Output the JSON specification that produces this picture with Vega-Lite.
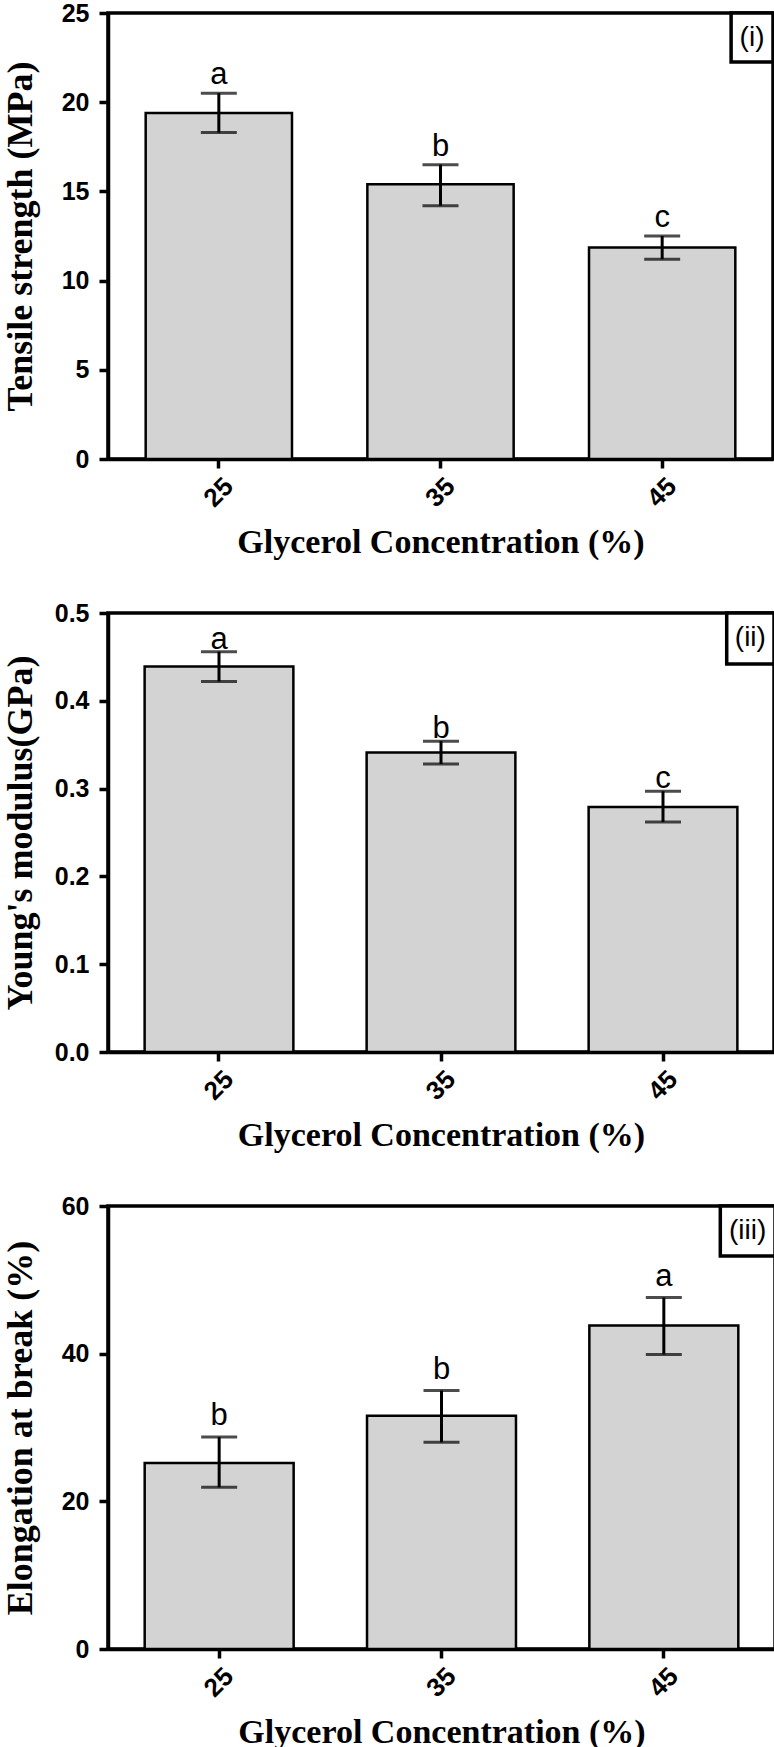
{
  "$schema": "https://vega.github.io/schema/vega-lite/v6.json",
  "padding": {"left": 0, "top": -1, "right": 2, "bottom": 0},
  "background": "white",
  "vconcat": [
    {
      "width": 665, "height": 446,
      "layer": [
        {
          "data": {"values": [
            {"conc": "25", "mean": 19.4, "lo": 18.3, "hi": 20.5, "grp": "a"},
            {"conc": "35", "mean": 15.4, "lo": 14.2, "hi": 16.5, "grp": "b"},
            {"conc": "45", "mean": 11.85, "lo": 11.2, "hi": 12.5, "grp": "c"}
          ]},
          "encoding": {
            "x": {"field": "conc", "type": "nominal", "title": "Glycerol Concentration (%)", "scale": {"paddingInner": 0.34, "paddingOuter": 0.17}, "axis": {"bandPosition": 0.5}}
          },
          "layer": [
            {"mark": {"type": "bar", "fill": "#d3d3d3", "stroke": "black", "strokeWidth": 2.5},
             "encoding": {
               "y": {"field": "mean", "type": "quantitative", "title": "Tensile strength (MPa)", "scale": {"domain": [0, 25], "nice": false}, "axis": {"values": [0, 5, 10, 15, 20, 25], "titlePadding": 22}}
             }},
            {"mark": {"type": "rule", "color": "black", "strokeWidth": 3},
             "encoding": {"y": {"field": "lo", "type": "quantitative", "title": "Tensile strength (MPa)"}, "y2": {"field": "hi"}}},
            {"mark": {"type": "tick", "color": "black", "thickness": 3, "size": 36, "orient": "horizontal"},
             "encoding": {"y": {"field": "hi", "type": "quantitative", "title": "Tensile strength (MPa)"}}},
            {"mark": {"type": "tick", "color": "black", "thickness": 3, "size": 36, "orient": "horizontal"},
             "encoding": {"y": {"field": "lo", "type": "quantitative", "title": "Tensile strength (MPa)"}}},
            {"mark": {"type": "text", "font": "Liberation Sans", "fontSize": 31, "baseline": "alphabetic", "dy": -9, "color": "black"},
             "encoding": {"y": {"field": "hi", "type": "quantitative", "title": "Tensile strength (MPa)"}, "text": {"field": "grp"}}}
          ]
        },
        {
          "data": {"values": [{"lab": "(i)"}]},
          "layer": [
            {"mark": {"type": "rect", "fill": "white", "stroke": "black", "strokeWidth": 3.5},
             "encoding": {
               "x": {"datum": 0.937, "type": "quantitative", "scale": {"domain": [0, 1]}, "axis": null}, "x2": {"datum": 1},
               "y": {"datum": 0.89, "type": "quantitative", "scale": {"domain": [0, 1]}, "axis": null}, "y2": {"datum": 1}
             }},
            {"mark": {"type": "text", "font": "Liberation Sans", "fontSize": 28, "align": "center", "baseline": "middle", "color": "black"},
             "encoding": {
               "x": {"datum": 0.9685, "type": "quantitative", "scale": {"domain": [0, 1]}, "axis": null},
               "y": {"datum": 0.945, "type": "quantitative", "scale": {"domain": [0, 1]}, "axis": null},
               "text": {"field": "lab"}
             }}
          ]
        }
      ],
      "resolve": {"scale": {"x": "independent", "y": "independent"}}
    },
    {
      "width": 666, "height": 439,
      "layer": [
        {
          "data": {"values": [
            {"conc": "25", "mean": 0.439, "lo": 0.422, "hi": 0.456, "grp": "a"},
            {"conc": "35", "mean": 0.341, "lo": 0.328, "hi": 0.354, "grp": "b"},
            {"conc": "45", "mean": 0.279, "lo": 0.262, "hi": 0.297, "grp": "c"}
          ]},
          "encoding": {
            "x": {"field": "conc", "type": "nominal", "title": "Glycerol Concentration (%)", "scale": {"paddingInner": 0.33, "paddingOuter": 0.165}, "axis": {"bandPosition": 0.5}}
          },
          "layer": [
            {"mark": {"type": "bar", "fill": "#d3d3d3", "stroke": "black", "strokeWidth": 2.5},
             "encoding": {
               "y": {"field": "mean", "type": "quantitative", "title": "Young's  modulus(GPa)", "scale": {"domain": [0, 0.5], "nice": false}, "axis": {"values": [0, 0.1, 0.2, 0.3, 0.4, 0.5], "format": ".1f", "titlePadding": 15}}
             }},
            {"mark": {"type": "rule", "color": "black", "strokeWidth": 3},
             "encoding": {"y": {"field": "lo", "type": "quantitative", "title": "Young's  modulus(GPa)"}, "y2": {"field": "hi"}}},
            {"mark": {"type": "tick", "color": "black", "thickness": 3, "size": 36, "orient": "horizontal"},
             "encoding": {"y": {"field": "hi", "type": "quantitative", "title": "Young's  modulus(GPa)"}}},
            {"mark": {"type": "tick", "color": "black", "thickness": 3, "size": 36, "orient": "horizontal"},
             "encoding": {"y": {"field": "lo", "type": "quantitative", "title": "Young's  modulus(GPa)"}}},
            {"mark": {"type": "text", "font": "Liberation Sans", "fontSize": 31, "baseline": "alphabetic", "dy": -3, "color": "black"},
             "encoding": {"y": {"field": "hi", "type": "quantitative", "title": "Young's  modulus(GPa)"}, "text": {"field": "grp"}}}
          ]
        },
        {
          "data": {"values": [{"lab": "(ii)"}]},
          "layer": [
            {"mark": {"type": "rect", "fill": "white", "stroke": "black", "strokeWidth": 3.5},
             "encoding": {
               "x": {"datum": 0.929, "type": "quantitative", "scale": {"domain": [0, 1]}, "axis": null}, "x2": {"datum": 1},
               "y": {"datum": 0.884, "type": "quantitative", "scale": {"domain": [0, 1]}, "axis": null}, "y2": {"datum": 1}
             }},
            {"mark": {"type": "text", "font": "Liberation Sans", "fontSize": 28, "align": "center", "baseline": "middle", "color": "black"},
             "encoding": {
               "x": {"datum": 0.9645, "type": "quantitative", "scale": {"domain": [0, 1]}, "axis": null},
               "y": {"datum": 0.942, "type": "quantitative", "scale": {"domain": [0, 1]}, "axis": null},
               "text": {"field": "lab"}
             }}
          ]
        }
      ],
      "resolve": {"scale": {"x": "independent", "y": "independent"}}
    },
    {
      "width": 667, "height": 443,
      "layer": [
        {
          "data": {"values": [
            {"conc": "25", "mean": 25.2, "lo": 21.9, "hi": 28.7, "grp": "b"},
            {"conc": "35", "mean": 31.6, "lo": 28.0, "hi": 35.0, "grp": "b"},
            {"conc": "45", "mean": 43.8, "lo": 39.9, "hi": 47.6, "grp": "a"}
          ]},
          "encoding": {
            "x": {"field": "conc", "type": "nominal", "title": "Glycerol Concentration (%)", "scale": {"paddingInner": 0.33, "paddingOuter": 0.165}, "axis": {"bandPosition": 0.5}}
          },
          "layer": [
            {"mark": {"type": "bar", "fill": "#d3d3d3", "stroke": "black", "strokeWidth": 2.5},
             "encoding": {
               "y": {"field": "mean", "type": "quantitative", "title": "Elongation at break (%)", "scale": {"domain": [0, 60], "nice": false}, "axis": {"values": [0, 20, 40, 60], "titlePadding": 22}}
             }},
            {"mark": {"type": "rule", "color": "black", "strokeWidth": 3},
             "encoding": {"y": {"field": "lo", "type": "quantitative", "title": "Elongation at break (%)"}, "y2": {"field": "hi"}}},
            {"mark": {"type": "tick", "color": "black", "thickness": 3, "size": 36, "orient": "horizontal"},
             "encoding": {"y": {"field": "hi", "type": "quantitative", "title": "Elongation at break (%)"}}},
            {"mark": {"type": "tick", "color": "black", "thickness": 3, "size": 36, "orient": "horizontal"},
             "encoding": {"y": {"field": "lo", "type": "quantitative", "title": "Elongation at break (%)"}}},
            {"mark": {"type": "text", "font": "Liberation Sans", "fontSize": 31, "baseline": "alphabetic", "dy": -12, "color": "black"},
             "encoding": {"y": {"field": "hi", "type": "quantitative", "title": "Elongation at break (%)"}, "text": {"field": "grp"}}}
          ]
        },
        {
          "data": {"values": [{"lab": "(iii)"}]},
          "layer": [
            {"mark": {"type": "rect", "fill": "white", "stroke": "black", "strokeWidth": 3.5},
             "encoding": {
               "x": {"datum": 0.918, "type": "quantitative", "scale": {"domain": [0, 1]}, "axis": null}, "x2": {"datum": 1},
               "y": {"datum": 0.887, "type": "quantitative", "scale": {"domain": [0, 1]}, "axis": null}, "y2": {"datum": 1}
             }},
            {"mark": {"type": "text", "font": "Liberation Sans", "fontSize": 28, "align": "center", "baseline": "middle", "color": "black"},
             "encoding": {
               "x": {"datum": 0.959, "type": "quantitative", "scale": {"domain": [0, 1]}, "axis": null},
               "y": {"datum": 0.9435, "type": "quantitative", "scale": {"domain": [0, 1]}, "axis": null},
               "text": {"field": "lab"}
             }}
          ]
        }
      ],
      "resolve": {"scale": {"x": "independent", "y": "independent"}}
    }
  ],
  "spacing": 37,
  "config": {
    "view": {"stroke": "black", "strokeWidth": 3.5},
    "axis": {
      "domainColor": "black", "domainWidth": 3.5, "tickColor": "black", "tickWidth": 3.5, "tickSize": 9,
      "grid": false, "labelColor": "black", "labelFont": "Liberation Sans", "labelFontWeight": "bold",
      "titleFont": "Liberation Serif", "titleFontWeight": "bold", "titleColor": "black",
      "zindex": 1, "labelOverlap": false, "labelFlush": false
    },
    "axisX": {"labelAngle": -45, "labelAlign": "center", "labelBaseline": "middle", "labelFontSize": 26, "labelPadding": 24, "titleFontSize": 34, "titlePadding": 14},
    "axisY": {"labelFontSize": 25, "labelPadding": 10, "titleFontSize": 36}
  }
}
